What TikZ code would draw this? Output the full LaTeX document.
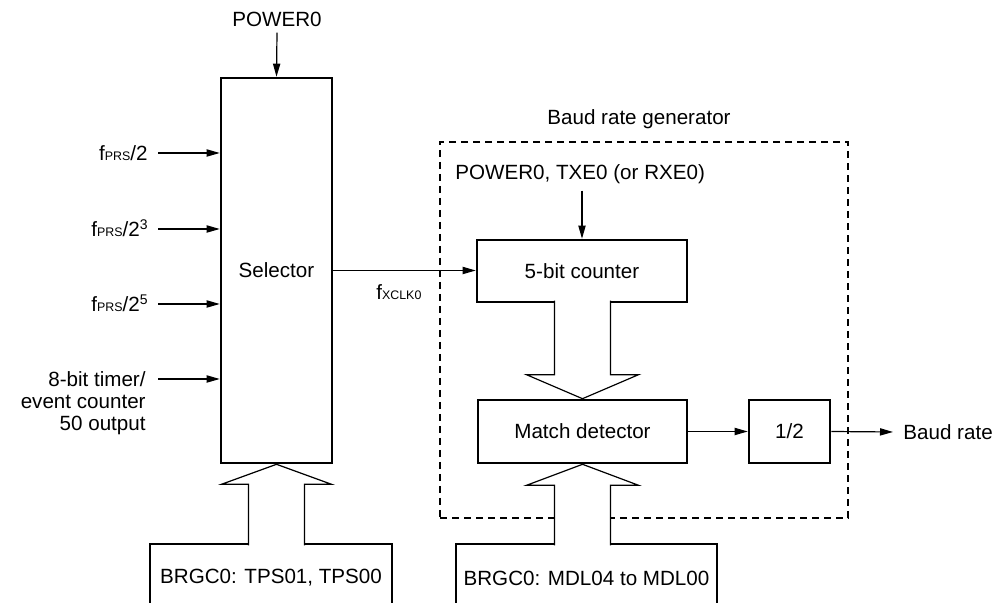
\documentclass[tikz,border=0pt]{standalone}
\usepackage{fontspec}
\setmainfont{Liberation Sans}
\usetikzlibrary{arrows.meta,calc}
\newcommand{\lsub}[1]{{\fontsize{6.2}{7}\selectfont #1}}
\newcommand{\lsup}[1]{\raisebox{3.6pt}{\fontsize{7}{8}\selectfont #1}}
\begin{document}
\begin{tikzpicture}[x=0.5pt,y=-0.5pt,
  every node/.style={font=\fontsize{10.3}{11}\selectfont},
  blk/.style={draw, line width=1.3pt, inner sep=0pt},
  arr/.style={line width=0.6pt, -{Triangle[length=6.5pt,width=3.6pt]}},
  hollow/.style={line width=0.6pt, fill=white, line join=miter},
  lab/.style={anchor=base east, inner sep=0pt}]
\useasboundingbox (0,0) rectangle (997,603);

% dashed baud rate generator frame
\node[draw, line width=1.3pt, dash pattern=on 3.5pt off 2.5pt, inner sep=0pt,
      minimum width=204pt, minimum height=188pt] (brg) at (644,330) {};
\node[anchor=base, inner sep=0pt] (brgl) at (639,125) {Baud rate generator};

% selector
\node[blk, minimum width=55.5pt, minimum height=192.5pt] (sel) at (276.5,270.5) {Selector};
\node[anchor=base, inner sep=0pt] (pw) at (277,27) {POWER0};
\draw[arr] ([yshift=-2.5pt]pw.south) -- (sel.north);

% inputs
\node[lab] (l1) at (148,160.5) {f\lsub{PRS}/2};
\node[lab] (l2) at (148,236.5) {f\lsub{PRS}/2\lsup{3}};
\node[lab] (l3) at (148,311.5) {f\lsub{PRS}/2\lsup{5}};
\node[anchor=north east, inner sep=0pt, align=right] (l8) at (146,371) {8-bit timer/\\event counter\\50 output};
\draw[arr] ([xshift=5pt,yshift=3.75pt]l1.base east) coordinate (a1) -- (a1 -| sel.west);
\draw[arr] ([xshift=5pt,yshift=3.75pt]l2.base east) coordinate (a2) -- (a2 -| sel.west);
\draw[arr] ([xshift=5pt,yshift=3.75pt]l3.base east) coordinate (a3) -- (a3 -| sel.west);
\draw[arr] ([xshift=6pt,yshift=-4pt]l8.north east) coordinate (a8) -- (a8 -| sel.west);

% counter
\node[blk, minimum width=105pt, minimum height=31pt] (cnt) at (582,271) {5-bit counter};
\node[anchor=base west, inner sep=0pt] (ptx) at (455,180) {POWER0, TXE0 (or RXE0)};
\path (ptx.south -| cnt.north) coordinate (p1);
\draw[arr] ([yshift=-3pt]p1) -- (cnt.north);
\draw[arr] (sel.east) -- (sel.east -| cnt.west);
\node[anchor=base west, inner sep=0pt] (fx) at (376,300) {f\lsub{XCLK0}};

% match detector and divider
\node[blk, minimum width=104.5pt, minimum height=31.5pt] (mat) at (582.5,431.5) {Match detector};
\node[blk, minimum width=40.5pt, minimum height=31.5pt] (half) at (789.5,431.5) {1/2};
\draw[arr] (mat) -- (half);
\node[anchor=west, inner sep=0pt] (baud) at (903,432) {Baud rate};
\draw[arr] (half.east) -- ([xshift=-5pt]baud.west);

% register boxes (cut at bottom edge)
\node[blk, minimum width=121pt, minimum height=34pt] (tps) at (271,578) {BRGC0: TPS01, TPS00};
\node[blk, minimum width=130.5pt, minimum height=34pt] (mdl) at (586.5,578) {BRGC0: MDL04 to MDL00};

% hollow bus arrows
\draw[hollow] (sel.south) ++(-28,81) -- ++(0,-61) -- ++(-27,0) -- (sel.south) -- ++(55,20) -- ++(-27,0) -- ++(0,61);
\draw[hollow] (mat.north) ++(-28,-98) -- ++(0,74) -- ++(-28,0) -- (mat.north) -- ++(56,-24) -- ++(-28,0) -- ++(0,-74);
\draw[hollow] (mat.south) ++(-28,81) -- ++(0,-60) -- ++(-28,0) -- (mat.south) -- ++(56,21) -- ++(-28,0) -- ++(0,60);
\end{tikzpicture}
\end{document}
